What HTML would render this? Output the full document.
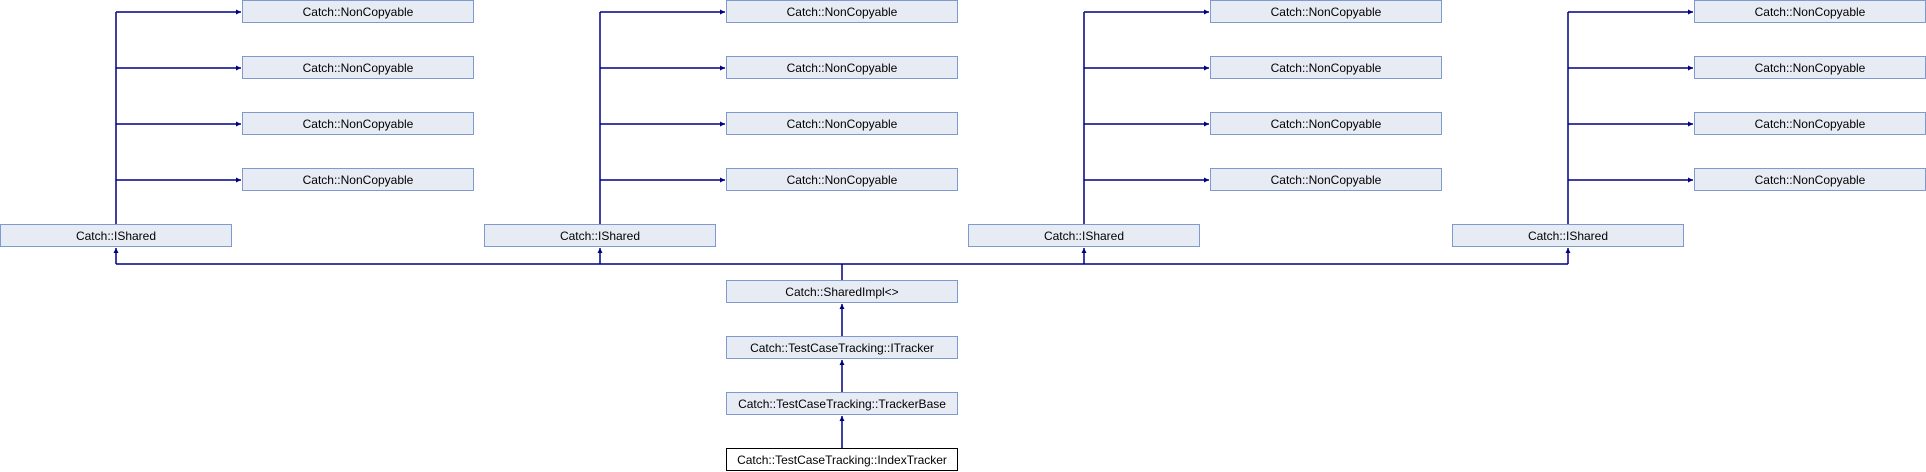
<!DOCTYPE html>
<html><head><meta charset="utf-8"><style>
html,body{margin:0;padding:0;background:#fff;width:1926px;height:472px;overflow:hidden}
svg text{font-family:"Liberation Sans",Arial,sans-serif;font-size:12px;fill:#000;text-anchor:middle}
</style></head><body>
<svg width="1926" height="472" viewBox="0 0 1926 472" xmlns="http://www.w3.org/2000/svg">
<defs>
<marker id="a" markerWidth="6" markerHeight="6" refX="5" refY="2.5" orient="auto" markerUnits="userSpaceOnUse">
<path d="M0,0 L5,2.5 L0,5 z" fill="#000080"/></marker>
</defs>
<g id="grp">
<g stroke="#000080" stroke-width="1.5" fill="none">
<line x1="116" y1="224" x2="116" y2="12"/>
<line x1="116" y1="12" x2="241" y2="12" marker-end="url(#a)"/>
<line x1="116" y1="68" x2="241" y2="68" marker-end="url(#a)"/>
<line x1="116" y1="124" x2="241" y2="124" marker-end="url(#a)"/>
<line x1="116" y1="180" x2="241" y2="180" marker-end="url(#a)"/>
<line x1="116" y1="264" x2="116" y2="248" marker-end="url(#a)"/>
</g>
<g fill="#e7ebf4" stroke="#7f9acd" stroke-width="1">
<rect x="242.5" y="0.5" width="231" height="22"/>
<rect x="242.5" y="56.5" width="231" height="22"/>
<rect x="242.5" y="112.5" width="231" height="22"/>
<rect x="242.5" y="168.5" width="231" height="22"/>
<rect x="0.5" y="224.5" width="231" height="22"/>
</g>
<text x="358" y="16">Catch::NonCopyable</text>
<text x="358" y="72">Catch::NonCopyable</text>
<text x="358" y="128">Catch::NonCopyable</text>
<text x="358" y="184">Catch::NonCopyable</text>
<text x="116" y="240">Catch::IShared</text>
</g>
<use href="#grp" x="484"/>
<use href="#grp" x="968"/>
<use href="#grp" x="1452"/>
<g stroke="#000080" stroke-width="1.5" fill="none">
<line x1="116" y1="264" x2="1568" y2="264"/>
<line x1="842" y1="264" x2="842" y2="280"/>
<line x1="842" y1="336" x2="842" y2="304" marker-end="url(#a)"/>
<line x1="842" y1="392" x2="842" y2="360" marker-end="url(#a)"/>
<line x1="842" y1="448" x2="842" y2="416" marker-end="url(#a)"/>
</g>
<g fill="#e7ebf4" stroke="#7f9acd" stroke-width="1">
<rect x="726.5" y="280.5" width="231" height="22"/>
<rect x="726.5" y="336.5" width="231" height="22"/>
<rect x="726.5" y="392.5" width="231" height="22"/>
</g>
<rect x="726.5" y="448.5" width="231" height="22" fill="#fff" stroke="#000" stroke-width="1"/>
<text x="842" y="296">Catch::SharedImpl&lt;&gt;</text>
<text x="842" y="352">Catch::TestCaseTracking::ITracker</text>
<text x="842" y="408">Catch::TestCaseTracking::TrackerBase</text>
<text x="842" y="464">Catch::TestCaseTracking::IndexTracker</text>
</svg>
</body></html>
